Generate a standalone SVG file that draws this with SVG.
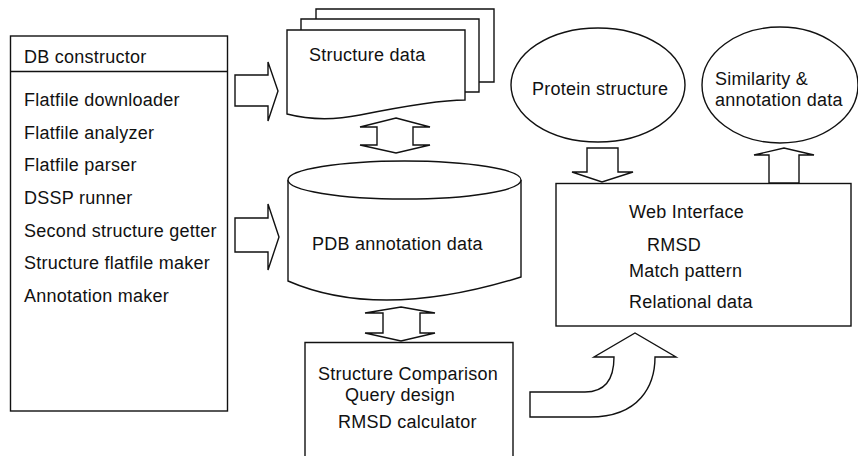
<svg xmlns="http://www.w3.org/2000/svg" width="858" height="456" viewBox="0 0 858 456">
<style>
.s{fill:#fff;stroke:#111;stroke-width:1.4;stroke-linejoin:miter}
.o{fill:none;stroke:#111;stroke-width:1.4}
text{font-family:"Liberation Sans",Arial,sans-serif;font-size:18px;fill:#111;letter-spacing:0.25px}
</style>
<rect width="858" height="456" fill="#fff"/>
<g id="db-constructor">
<rect class="s" x="10.5" y="36" width="217" height="375"/>
<line class="o" x1="10.5" y1="71.5" x2="227.5" y2="71.5"/>
<text x="24" y="63">DB constructor</text>
<text x="24" y="106">Flatfile downloader</text>
<text x="24" y="138.5">Flatfile analyzer</text>
<text x="24" y="171">Flatfile parser</text>
<text x="24" y="204">DSSP runner</text>
<text x="24" y="236.5">Second structure getter</text>
<text x="24" y="269">Structure flatfile maker</text>
<text x="24" y="302">Annotation maker</text>
</g>
<g id="structure-data">
<path class="o" d="M316,19 L316,9 L494,9 L494,82 L479,82"/>
<path class="s" d="M301,30 L301,19 L479,19 L479,92 L465,92"/>
<path class="s" d="M287,30 L465,30 L465,100 C440,100 400,107 360,115 C335,120 310,120 287,114 Z"/>
<text x="309" y="61">Structure data</text>
</g>
<g id="pdb-annotation">
<path class="s" d="M288,180 L288,281 Q380,321 521,277 L521,180"/>
<ellipse class="s" cx="404.5" cy="180" rx="116.5" ry="19"/>
<text x="312" y="250">PDB annotation data</text>
</g>
<g id="structure-comparison">
<path class="s" d="M305,460 L305,342.5 L513,342.5 L513,460"/>
<text x="318" y="380">Structure Comparison</text>
<text x="345" y="401">Query design</text>
<text x="338" y="428">RMSD calculator</text>
</g>
<g id="protein-structure">
<ellipse class="s" cx="598" cy="85" rx="87" ry="57"/>
<text x="532" y="95">Protein structure</text>
</g>
<g id="similarity">
<ellipse class="s" cx="780" cy="85" rx="78" ry="58"/>
<text x="715" y="85">Similarity &amp;</text>
<text x="715" y="106">annotation data</text>
</g>
<g id="web-interface">
<rect class="s" x="556" y="183.5" width="295" height="142.5"/>
<text x="629" y="218">Web Interface</text>
<text x="647" y="251">RMSD</text>
<text x="629" y="277">Match pattern</text>
<text x="629" y="308">Relational data</text>
</g>
<g id="connectors">
<polygon class="s" points="235,75 268,75 268,62 278,91 268,121 268,106 235,106"/>
<polygon class="s" points="235,218 268,218 268,204 279,237 268,270 268,252 235,252"/>
<polygon class="s" points="396,118 430,127 413,127 413,145 430,145 396,153 360,145 377,145 377,127 360,127"/>
<polygon class="s" points="401,307 435,313 420,313 420,333 435,333 401,341 365,333 383,333 383,313 365,313"/>
<polygon class="s" points="587,148 618,148 618,172 633,172 602,182 572,172 587,172"/>
<polygon class="s" points="769,183 769,155 754,155 784,148 814,155 799,155 799,183"/>
<path class="s" d="M530,392 L585,392 C605,392 614,380 614,357 L594,357 L635,333 L676,357 L655,357 C655,385 640,417 590,417 L530,417 Z"/>
</g>
</svg>
